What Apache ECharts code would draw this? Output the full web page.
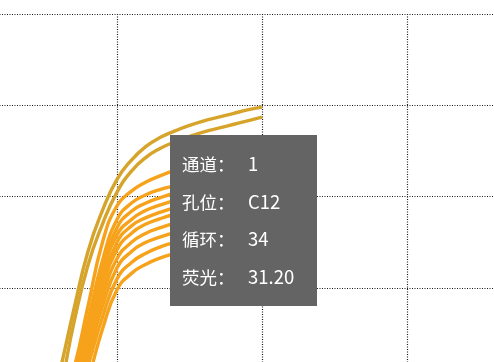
<!DOCTYPE html>
<html>
<head>
<meta charset="utf-8">
<script src="https://cdn.jsdelivr.net/npm/echarts@6/dist/echarts.min.js"></script>
<style>
html, body { margin: 0; padding: 0; background: #fff; }
#chart { width: 494px; height: 362px; }
</style>
</head>
<body>
<div id="chart"></div>
<script>
// qPCR amplification curves, channel 1 (zoomed part of the plot)
var channel = 1;
var cycles = [24, 25, 26, 27, 28, 29, 30, 31, 32, 33, 34, 35, 36, 37, 38, 39, 40];

// fluorescence per well
var wellA3  = [2.5, 4.5, 10.5, 17.5, 24, 28.5, 31.9, 34, 35.5, 36.5, 37.2, 37.8, 38.3, 38.7, 39.1, 39.5, 39.8];
var wellA4  = [2, 4, 8.5, 16, 22.5, 27, 30.5, 32.8, 34.3, 35.3, 36.0, 36.6, 37.1, 37.5, 37.9, 38.3, 38.7];
var wellC10 = [1.5, 3, 6, 11, 18, 25, 29, 30.6, 31.6, 32.3, 32.9, 33.4, 33.8, 34.2, 34.6, 34.9, 35.2];
var wellC12 = [1.5, 3, 5.5, 10, 16.5, 23, 27.5, 29.3, 30.2, 30.8, 31.2, 31.6, 32, 32.3, 32.6, 32.9, 33.2];
var wellC11 = [1.2, 2.5, 5, 9.5, 15.5, 22, 26.6, 28.4, 29.3, 29.9, 30.4, 30.8, 31.1, 31.4, 31.7, 32, 32.2];
var wellD10 = [1.2, 2.5, 4.8, 9, 15, 21.5, 25.8, 27.5, 28.5, 29.1, 29.6, 30, 30.3, 30.6, 30.9, 31.2, 31.4];
var wellD11 = [1, 2.2, 4.5, 8.5, 14.5, 20.5, 25, 26.8, 27.7, 28.3, 28.8, 29.2, 29.5, 29.8, 30.1, 30.3, 30.5];
var wellD12 = [1, 2, 4.2, 8, 14, 20, 24.2, 26, 27, 27.6, 28.1, 28.5, 28.8, 29.1, 29.4, 29.6, 29.8];
var wellE10 = [0.9, 1.9, 4, 7.5, 13, 19, 23.2, 25, 26, 26.6, 27.1, 27.5, 27.8, 28.1, 28.4, 28.6, 28.8];
var wellE11 = [0.8, 1.8, 3.7, 7, 12.5, 18, 22.2, 24, 25, 25.6, 26.1, 26.5, 26.8, 27.1, 27.4, 27.6, 27.8];
var wellE12 = [0.8, 1.6, 3.4, 6.5, 11.5, 16.8, 21, 22.8, 23.8, 24.5, 25, 25.4, 25.7, 26, 26.3, 26.5, 26.7];
var wellF10 = [0.7, 1.5, 3, 5.5, 10, 15.5, 19.8, 21.6, 22.6, 23.3, 23.8, 24.3, 24.8, 25.2, 25.6, 26, 26.3];

var wells = [
    ['A3', wellA3], ['A4', wellA4], ['C10', wellC10], ['C12', wellC12],
    ['C11', wellC11], ['D10', wellD10], ['D11', wellD11], ['D12', wellD12],
    ['E10', wellE10], ['E11', wellE11], ['E12', wellE12], ['F10', wellF10]
];
var hoverWell = 'C12';
var hoverCycle = 34;

var series = wells.map(function (w, i) {
    var hov = w[0] === hoverWell;
    return {
        name: w[0],
        type: 'line',
        smooth: true,
        // the hovered well keeps (invisible) symbols so the tooltip can attach to one
        symbol: 'circle',
        symbolSize: 2,
        showSymbol: hov,
        itemStyle: { opacity: 0 },
        animation: false,
        emphasis: { disabled: true },
        lineStyle: { width: 3.4, color: i < 2 ? '#D6A42A' : '#F7A21B' },
        data: cycles.map(function (c, k) { return [c, w[1][k]]; })
    };
});

var gridLine = { show: true, lineStyle: { type: [1, 1.5], color: '#1a1a1a', width: 1.2 } };

var option = {
    animation: false,
    grid: {
        left: -28, top: 14, width: 580, height: 365.3,
        containLabel: false, outerBoundsMode: 'none'
    },
    tooltip: {
        trigger: 'item',
        triggerOn: 'none',
        alwaysShowContent: true,
        transitionDuration: 0,
        position: [170, 135],
        backgroundColor: '#646464',
        borderWidth: 0,
        borderRadius: 0,
        padding: [10, 12],
        textStyle: { color: '#fff', fontSize: 18, fontFamily: 'Noto Sans CJK SC' },
        extraCssText: 'box-shadow:none;width:123px;',
        formatter: function (p) {
            var rows = [
                ['通道：', channel],
                ['孔位：', p.seriesName],
                ['循环：', p.value[0]],
                ['荧光：', p.value[1].toFixed(2)]
            ];
            return rows.map(function (r) {
                return '<div style="line-height:36.7px;white-space:nowrap">' +
                    '<span style="display:inline-block;width:66px;font-size:17.5px">' + r[0] + '</span>' +
                    '<span style="font-size:18.5px">' + r[1] + '</span></div>';
            }).join('');
        }
    },
    xAxis: {
        type: 'value', min: 20, max: 60, interval: 10,
        axisLine: { show: false }, axisTick: { show: false }, axisLabel: { show: false },
        splitLine: gridLine
    },
    yAxis: {
        type: 'value', min: 10, max: 50, interval: 10,
        axisLine: { show: false }, axisTick: { show: false }, axisLabel: { show: false },
        splitLine: gridLine
    },
    series: series
};

var chart = echarts.init(document.getElementById('chart'));
chart.setOption(option);
chart.dispatchAction({
    type: 'showTip',
    seriesIndex: wells.findIndex(function (w) { return w[0] === hoverWell; }),
    dataIndex: cycles.indexOf(hoverCycle)
});
</script>
</body>
</html>
